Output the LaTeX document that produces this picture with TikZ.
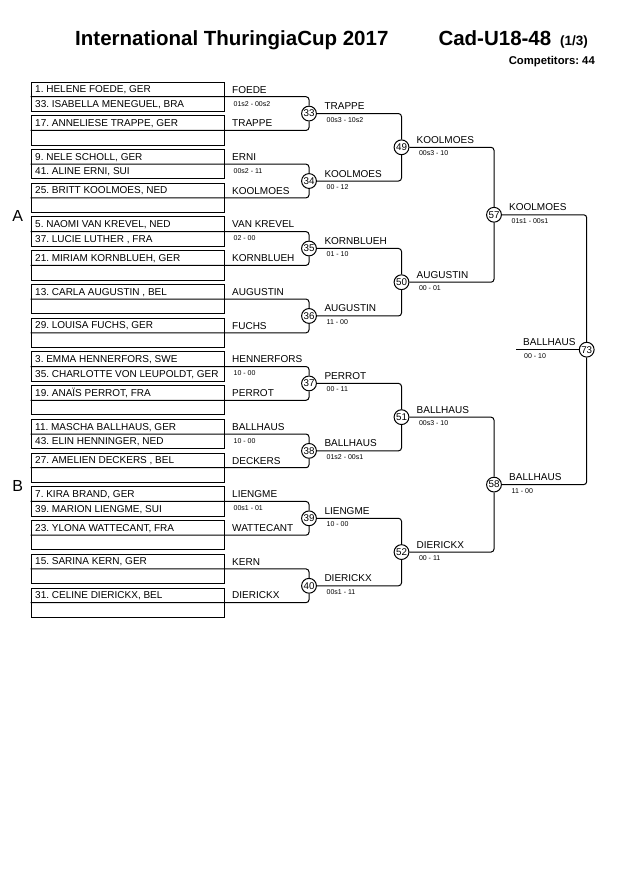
\documentclass[tikz,border=0pt]{standalone}
\usepackage{fontspec}
\setmainfont{Liberation Sans}
\usetikzlibrary{positioning}
\frenchspacing

\begin{document}
\begin{tikzpicture}[x=1pt, y=-1pt,
        player/.style={rectangle, draw, line width=1pt, minimum width=193pt, minimum height=29.3pt, inner sep=0pt},
        row/.style={anchor=base west, inner sep=0pt, font=\fontsize{10}{12}\selectfont},
        score/.style={anchor=base west, inner sep=0pt, font=\fontsize{7}{8}\selectfont},
        match/.style={circle, draw, fill=white, line width=1pt, minimum size=14.8pt, inner sep=0pt, font=\fontsize{9.8}{10}\selectfont},
        arm/.style={line width=1pt, rounded corners=3pt}]
        \useasboundingbox (0, 0) rectangle (630, 891);

        % header
        \node[anchor=base west, inner sep=0pt, font=\bfseries\fontsize{20.5}{24}\selectfont] (title) at (75, 46) {International ThuringiaCup 2017};
        \node[anchor=base west, inner sep=0pt, font=\bfseries\fontsize{20.5}{24}\selectfont] (cat) at (438.3, 46) {Cad-U18-48};
        \node[anchor=base west, inner sep=0pt, font=\bfseries\fontsize{13.5}{16}\selectfont] (part) at (560, 46) {(1/3)};
        \node[anchor=base east, inner sep=0pt, font=\bfseries\fontsize{11.3}{13}\selectfont] (count) at (595, 64) {Competitors: 44};
        \node[anchor=base west, inner sep=0pt, font=\fontsize{16}{18}\selectfont] (poolA) at (12.3, 221.5) {A};
        \node[anchor=base west, inner sep=0pt, font=\fontsize{16}{18}\selectfont] (poolB) at (12.3, 491.3) {B};

        % pool A
        \node[player] (a1) at (127.5, 96.70) {};
        \node[player] (a2) at (127.5, 130.43) {};
        \node[player] (a3) at (127.5, 164.16) {};
        \node[player] (a4) at (127.5, 197.89) {};
        \node[player] (a5) at (127.5, 231.62) {};
        \node[player] (a6) at (127.5, 265.35) {};
        \node[player] (a7) at (127.5, 299.08) {};
        \node[player] (a8) at (127.5, 332.81) {};
        % pool B
        \node[player] (b1) at (127.5, 366.54) {};
        \node[player] (b2) at (127.5, 400.27) {};
        \node[player] (b3) at (127.5, 434.00) {};
        \node[player] (b4) at (127.5, 467.73) {};
        \node[player] (b5) at (127.5, 501.46) {};
        \node[player] (b6) at (127.5, 535.19) {};
        \node[player] (b7) at (127.5, 568.92) {};
        \node[player] (b8) at (127.5, 602.65) {};

        % entries
        \node[row] (a1-1) at ([xshift=4.5pt, yshift=4pt]a1.west) {1. HELENE FOEDE, GER};
        \node[row] (a1-2) at ([xshift=4.5pt, yshift=-10.6pt]a1.west) {33. ISABELLA MENEGUEL, BRA};
        \node[row] (a2-1) at ([xshift=4.5pt, yshift=4pt]a2.west) {17. ANNELIESE TRAPPE, GER};
        \node[row] (a3-1) at ([xshift=4.5pt, yshift=4pt]a3.west) {9. NELE SCHOLL, GER};
        \node[row] (a3-2) at ([xshift=4.5pt, yshift=-10.6pt]a3.west) {41. ALINE ERNI, SUI};
        \node[row] (a4-1) at ([xshift=4.5pt, yshift=4pt]a4.west) {25. BRITT KOOLMOES, NED};
        \node[row] (a5-1) at ([xshift=4.5pt, yshift=4pt]a5.west) {5. NAOMI VAN KREVEL, NED};
        \node[row] (a5-2) at ([xshift=4.5pt, yshift=-10.6pt]a5.west) {37. LUCIE LUTHER , FRA};
        \node[row] (a6-1) at ([xshift=4.5pt, yshift=4pt]a6.west) {21. MIRIAM KORNBLUEH, GER};
        \node[row] (a7-1) at ([xshift=4.5pt, yshift=4pt]a7.west) {13. CARLA AUGUSTIN , BEL};
        \node[row] (a8-1) at ([xshift=4.5pt, yshift=4pt]a8.west) {29. LOUISA FUCHS, GER};
        \node[row] (b1-1) at ([xshift=4.5pt, yshift=4pt]b1.west) {3. EMMA HENNERFORS, SWE};
        \node[row] (b1-2) at ([xshift=4.5pt, yshift=-10.6pt]b1.west) {35. CHARLOTTE VON LEUPOLDT, GER};
        \node[row] (b2-1) at ([xshift=4.5pt, yshift=4pt]b2.west) {19. ANAÏS PERROT, FRA};
        \node[row] (b3-1) at ([xshift=4.5pt, yshift=4pt]b3.west) {11. MASCHA BALLHAUS, GER};
        \node[row] (b3-2) at ([xshift=4.5pt, yshift=-10.6pt]b3.west) {43. ELIN HENNINGER, NED};
        \node[row] (b4-1) at ([xshift=4.5pt, yshift=4pt]b4.west) {27. AMELIEN DECKERS , BEL};
        \node[row] (b5-1) at ([xshift=4.5pt, yshift=4pt]b5.west) {7. KIRA BRAND, GER};
        \node[row] (b5-2) at ([xshift=4.5pt, yshift=-10.6pt]b5.west) {39. MARION LIENGME, SUI};
        \node[row] (b6-1) at ([xshift=4.5pt, yshift=4pt]b6.west) {23. YLONA WATTECANT, FRA};
        \node[row] (b7-1) at ([xshift=4.5pt, yshift=4pt]b7.west) {15. SARINA KERN, GER};
        \node[row] (b8-1) at ([xshift=4.5pt, yshift=4pt]b8.west) {31. CELINE DIERICKX, BEL};

        % first round
        \node[row] (w-a1) at ([xshift=7.5pt, yshift=3.7pt]a1.east) {FOEDE};
        \node[score] (s-a1) at ([xshift=9pt, yshift=-9.3pt]a1.east) {01s2 - 00s2};
        \node[row] (w-a2) at ([xshift=7.5pt, yshift=3.7pt]a2.east) {TRAPPE};
        \node[row] (w-a3) at ([xshift=7.5pt, yshift=3.7pt]a3.east) {ERNI};
        \node[score] (s-a3) at ([xshift=9pt, yshift=-9.3pt]a3.east) {00s2 - 11};
        \node[row] (w-a4) at ([xshift=7.5pt, yshift=3.7pt]a4.east) {KOOLMOES};
        \node[row] (w-a5) at ([xshift=7.5pt, yshift=3.7pt]a5.east) {VAN KREVEL};
        \node[score] (s-a5) at ([xshift=9pt, yshift=-9.3pt]a5.east) {02 - 00};
        \node[row] (w-a6) at ([xshift=7.5pt, yshift=3.7pt]a6.east) {KORNBLUEH};
        \node[row] (w-a7) at ([xshift=7.5pt, yshift=3.7pt]a7.east) {AUGUSTIN};
        \node[row] (w-a8) at ([xshift=7.5pt, yshift=3.7pt]a8.east) {FUCHS};
        \node[row] (w-b1) at ([xshift=7.5pt, yshift=3.7pt]b1.east) {HENNERFORS};
        \node[score] (s-b1) at ([xshift=9pt, yshift=-9.3pt]b1.east) {10 - 00};
        \node[row] (w-b2) at ([xshift=7.5pt, yshift=3.7pt]b2.east) {PERROT};
        \node[row] (w-b3) at ([xshift=7.5pt, yshift=3.7pt]b3.east) {BALLHAUS};
        \node[score] (s-b3) at ([xshift=9pt, yshift=-9.3pt]b3.east) {10 - 00};
        \node[row] (w-b4) at ([xshift=7.5pt, yshift=3.7pt]b4.east) {DECKERS};
        \node[row] (w-b5) at ([xshift=7.5pt, yshift=3.7pt]b5.east) {LIENGME};
        \node[score] (s-b5) at ([xshift=9pt, yshift=-9.3pt]b5.east) {00s1 - 01};
        \node[row] (w-b6) at ([xshift=7.5pt, yshift=3.7pt]b6.east) {WATTECANT};
        \node[row] (w-b7) at ([xshift=7.5pt, yshift=3.7pt]b7.east) {KERN};
        \node[row] (w-b8) at ([xshift=7.5pt, yshift=3.7pt]b8.east) {DIERICKX};

        % match circles
        \node[match] (m33) at (309, 113.57) {33};
        \node[match] (m34) at (309, 181.03) {34};
        \node[match] (m35) at (309, 248.49) {35};
        \node[match] (m36) at (309, 315.95) {36};
        \node[match] (m37) at (309, 383.41) {37};
        \node[match] (m38) at (309, 450.87) {38};
        \node[match] (m39) at (309, 518.33) {39};
        \node[match] (m40) at (309, 585.79) {40};
        \node[match] (m49) at (401.5, 147.30) {49};
        \node[match] (m50) at (401.5, 282.22) {50};
        \node[match] (m51) at (401.5, 417.14) {51};
        \node[match] (m52) at (401.5, 552.06) {52};
        \node[match] (m57) at (494, 214.76) {57};
        \node[match] (m58) at (494, 484.60) {58};
        \node[match] (m73) at (586.7, 349.68) {73};
        \coordinate (fin) at (516, 349.68);

        % winners of the matches
        \node[row] (w33) at ([xshift=15.3pt, yshift=4pt]m33.center) {TRAPPE};
        \node[score] (s33) at ([xshift=17.5pt, yshift=-8.5pt]m33.center) {00s3 - 10s2};
        \node[row] (w34) at ([xshift=15.3pt, yshift=4pt]m34.center) {KOOLMOES};
        \node[score] (s34) at ([xshift=17.5pt, yshift=-8.5pt]m34.center) {00 - 12};
        \node[row] (w35) at ([xshift=15.3pt, yshift=4pt]m35.center) {KORNBLUEH};
        \node[score] (s35) at ([xshift=17.5pt, yshift=-8.5pt]m35.center) {01 - 10};
        \node[row] (w36) at ([xshift=15.3pt, yshift=4pt]m36.center) {AUGUSTIN};
        \node[score] (s36) at ([xshift=17.5pt, yshift=-8.5pt]m36.center) {11 - 00};
        \node[row] (w37) at ([xshift=15.3pt, yshift=4pt]m37.center) {PERROT};
        \node[score] (s37) at ([xshift=17.5pt, yshift=-8.5pt]m37.center) {00 - 11};
        \node[row] (w38) at ([xshift=15.3pt, yshift=4pt]m38.center) {BALLHAUS};
        \node[score] (s38) at ([xshift=17.5pt, yshift=-8.5pt]m38.center) {01s2 - 00s1};
        \node[row] (w39) at ([xshift=15.3pt, yshift=4pt]m39.center) {LIENGME};
        \node[score] (s39) at ([xshift=17.5pt, yshift=-8.5pt]m39.center) {10 - 00};
        \node[row] (w40) at ([xshift=15.3pt, yshift=4pt]m40.center) {DIERICKX};
        \node[score] (s40) at ([xshift=17.5pt, yshift=-8.5pt]m40.center) {00s1 - 11};
        \node[row] (w49) at ([xshift=15pt, yshift=4pt]m49.center) {KOOLMOES};
        \node[score] (s49) at ([xshift=17.3pt, yshift=-8.5pt]m49.center) {00s3 - 10};
        \node[row] (w50) at ([xshift=15pt, yshift=4pt]m50.center) {AUGUSTIN};
        \node[score] (s50) at ([xshift=17.3pt, yshift=-8.5pt]m50.center) {00 - 01};
        \node[row] (w51) at ([xshift=15pt, yshift=4pt]m51.center) {BALLHAUS};
        \node[score] (s51) at ([xshift=17.3pt, yshift=-8.5pt]m51.center) {00s3 - 10};
        \node[row] (w52) at ([xshift=15pt, yshift=4pt]m52.center) {DIERICKX};
        \node[score] (s52) at ([xshift=17.3pt, yshift=-8.5pt]m52.center) {00 - 11};
        \node[row] (w57) at ([xshift=15pt, yshift=4pt]m57.center) {KOOLMOES};
        \node[score] (s57) at ([xshift=17.5pt, yshift=-8.5pt]m57.center) {01s1 - 00s1};
        \node[row] (w58) at ([xshift=15pt, yshift=4pt]m58.center) {BALLHAUS};
        \node[score] (s58) at ([xshift=17.5pt, yshift=-8.5pt]m58.center) {11 - 00};
        \node[row] (w73) at ([xshift=7pt, yshift=3.7pt]fin) {BALLHAUS};
        \node[score] (s73) at ([xshift=8pt, yshift=-8.5pt]fin) {00 - 10};

        % brackets
        \draw[arm] (a1.west) -| (m33.north);
        \draw[arm] (a2.west) -| (m33.south);
        \draw[arm] (a3.west) -| (m34.north);
        \draw[arm] (a4.west) -| (m34.south);
        \draw[arm] (a5.west) -| (m35.north);
        \draw[arm] (a6.west) -| (m35.south);
        \draw[arm] (a7.west) -| (m36.north);
        \draw[arm] (a8.west) -| (m36.south);
        \draw[arm] (b1.west) -| (m37.north);
        \draw[arm] (b2.west) -| (m37.south);
        \draw[arm] (b3.west) -| (m38.north);
        \draw[arm] (b4.west) -| (m38.south);
        \draw[arm] (b5.west) -| (m39.north);
        \draw[arm] (b6.west) -| (m39.south);
        \draw[arm] (b7.west) -| (m40.north);
        \draw[arm] (b8.west) -| (m40.south);
        \draw[arm] (m33) -| (m49.north);
        \draw[arm] (m34) -| (m49.south);
        \draw[arm] (m35) -| (m50.north);
        \draw[arm] (m36) -| (m50.south);
        \draw[arm] (m37) -| (m51.north);
        \draw[arm] (m38) -| (m51.south);
        \draw[arm] (m39) -| (m52.north);
        \draw[arm] (m40) -| (m52.south);
        \draw[arm] (m49) -| (m57.north);
        \draw[arm] (m50) -| (m57.south);
        \draw[arm] (m51) -| (m58.north);
        \draw[arm] (m52) -| (m58.south);
        \draw[arm] (m57) -| (m73.north);
        \draw[arm] (m58) -| (m73.south);
        \draw[arm] (fin) -- (m73);
    \end{tikzpicture}
\end{document}
